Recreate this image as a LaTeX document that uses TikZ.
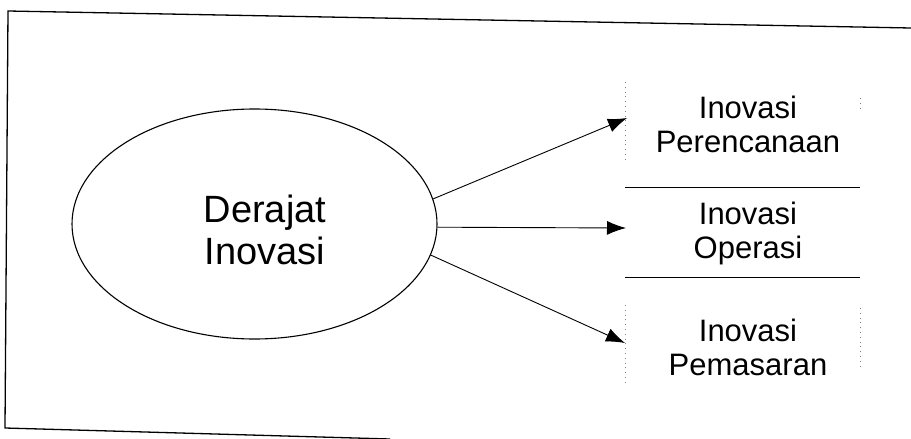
\documentclass[tikz,border=0pt]{standalone}
\usepackage{fontspec}
\setmainfont{Liberation Sans}
\usetikzlibrary{shapes,arrows.meta}
\tikzstyle{bubble} = [ellipse, draw, line width=1.1pt, minimum width=365pt,
    minimum height=230pt, inner sep=0pt]
\tikzstyle{title} = [align=center, font=\fontsize{38}{42}\selectfont]
\tikzstyle{field} = [rectangle, align=center,
    font=\fontsize{31}{34}\selectfont]
\tikzstyle{line} = [draw, line width=0.9pt, -{Latex[length=19pt,width=14pt]}]
\tikzstyle{rule} = [draw, line width=0.9pt]
\tikzstyle{edge} = [draw, gray, line width=0.8pt, loosely dotted]

\begin{document}
\begin{tikzpicture}[x=1pt, y=-1pt]
	\useasboundingbox (0,0) rectangle (911,439);

	% outer frame
	\draw [line width=1.3pt] (911,28) -- (8,11) -- (5,428) -- (390,439);

	\node [bubble] (degree) at (254.5,224) {};
	\node [title] (degreetext) at (265,230) {Derajat\\Inovasi};

	\node [field] (plan) at (748,124) {Inovasi\\Perencanaan};
	\node [field] (oper) at (748,233) {Inovasi\\Operasi};
	\node [field] (market) at (748,347) {Inovasi\\Pemasaran};

	% arrow tips on the left edge of the table
	\coordinate (planin) at (627,118);
	\coordinate (operin) at (626,228);
	\coordinate (marketin) at (625,343);

	% table rules
	\path [rule] (625,187) -- (860,187);
	\path [rule] (625,277) -- (860,277);
	\path [edge] (625,82) -- (625,160);
	\path [edge] (625,305) -- (625,382);
	\path [edge] (860,98) -- (860,112);
	\path [edge] (860,308) -- (860,368);

	\path [line] (degree.8) -- (planin);
	\path [line] (degree.-1) -- (operin);
	\path [line] (degree.-10) -- (marketin);
\end{tikzpicture}
\end{document}
